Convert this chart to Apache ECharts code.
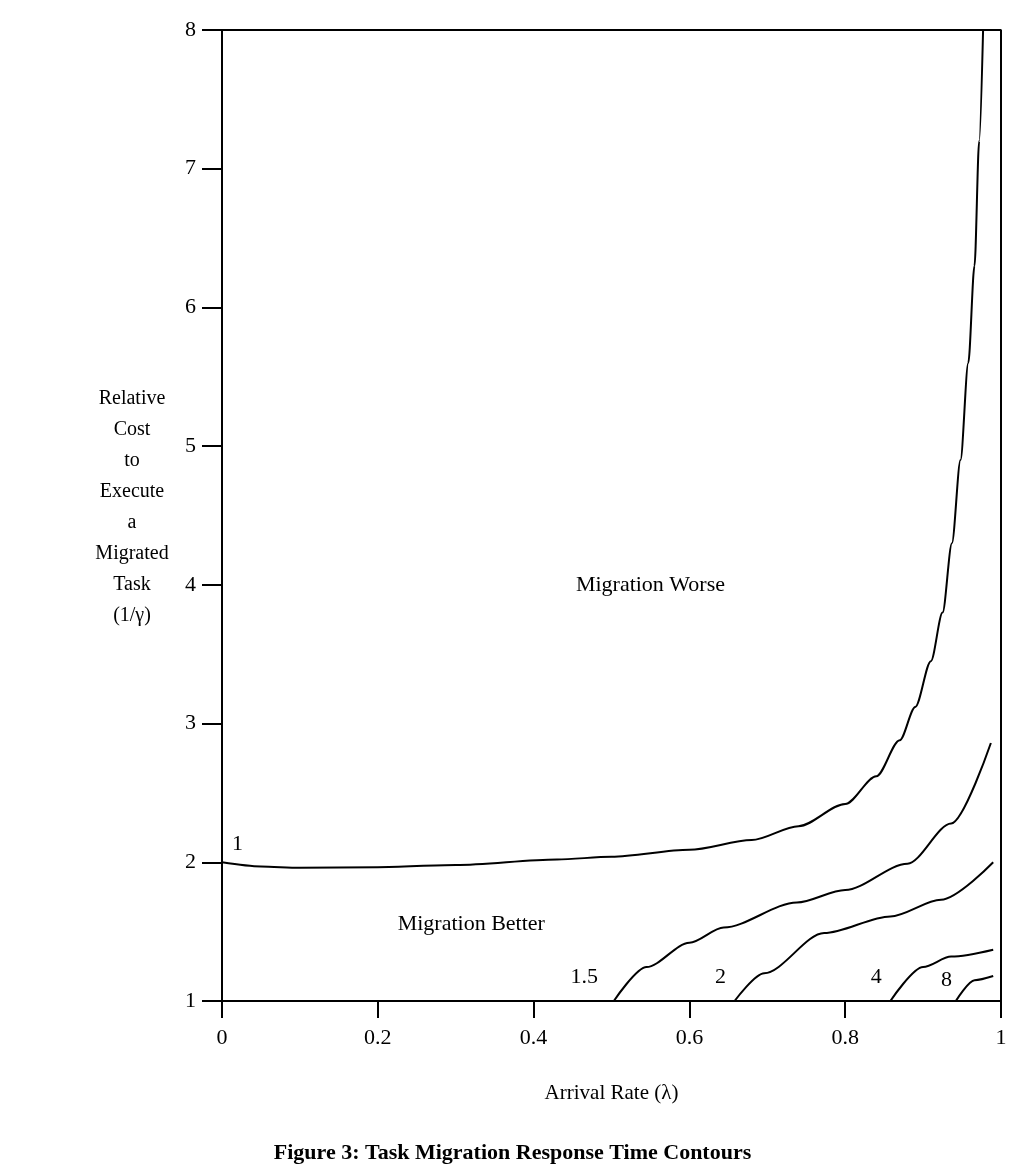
<!DOCTYPE html>
<html><head><meta charset="utf-8">
<script src="https://cdn.jsdelivr.net/npm/echarts@6/dist/echarts.min.js"></script>
<style>html,body{margin:0;padding:0;background:#fff}#c{width:1025px;height:1171px}</style>
</head><body><div id="c"></div>
<script>
var xTicks = [0, 0.2, 0.4, 0.6, 0.8, 1];
var yTicks = [1, 2, 3, 4, 5, 6, 7, 8];
var contour1 = [[0,2.0],[0.05,1.97],[0.1,1.96],[0.2,1.965],[0.3,1.98],[0.43,2.02],[0.5,2.04],[0.6,2.09],[0.68,2.16],[0.74,2.26],[0.8,2.42],[0.84,2.62],[0.87,2.88],[0.89,3.12],[0.91,3.45],[0.925,3.8],[0.937,4.3],[0.948,4.9],[0.958,5.6],[0.966,6.3],[0.972,7.2],[0.977,8]];
var contour15 = [[0.503,1.0],[0.545,1.245],[0.60,1.42],[0.644,1.53],[0.738,1.71],[0.80,1.80],[0.88,1.99],[0.936,2.28],[0.987,2.86]];
var contour2 = [[0.658,1.0],[0.696,1.2],[0.773,1.49],[0.858,1.61],[0.923,1.73],[0.99,2.0]];
var contour4 = [[0.858,1.0],[0.90,1.245],[0.936,1.32],[0.99,1.37]];
var contour8 = [[0.942,1.0],[0.966,1.15],[0.99,1.18]];
var boxLine = [[0,8],[1,8],[1,1]];
var contourLabels = [[0.02,2.13,'1'],[0.465,1.17,'1.5'],[0.64,1.17,'2'],[0.84,1.17,'4'],[0.93,1.15,'8']];
var regionLabels = [[0.55,4.0,'Migration Worse'],[0.32,1.55,'Migration Better']];
var F = 'Liberation Serif, Times New Roman, serif';
function line(d){return {type:'line',data:d,symbol:'none',smooth:0.3,smoothMonotone:'x',lineStyle:{color:'#000',width:2},silent:true};}
var chart = echarts.init(document.getElementById('c'));
chart.setOption({
  animation:false,
  grid:{left:222,right:24,top:30,bottom:170},
  xAxis:{type:'value',min:0,max:1,interval:0.2,
    axisLine:{lineStyle:{color:'#000',width:2}},
    axisTick:{length:17,lineStyle:{color:'#000',width:2}},
    splitLine:{show:false},
    axisLabel:{color:'#000',fontFamily:F,fontSize:22,margin:26,formatter:function(v){return xTicks.indexOf(Math.round(v*10)/10)>=0?String(Math.round(v*10)/10):'';}},
    name:'Arrival Rate (\u03bb)',nameLocation:'middle',nameGap:82,nameTextStyle:{color:'#000',fontFamily:F,fontSize:21}},
  yAxis:{type:'value',min:1,max:8,interval:1,
    axisLine:{lineStyle:{color:'#000',width:2}},
    axisTick:{length:20,lineStyle:{color:'#000',width:2}},
    splitLine:{show:false},
    axisLabel:{color:'#000',fontFamily:F,fontSize:22,margin:26,formatter:function(v){return yTicks.indexOf(v)>=0?String(v):'';}}},
  graphic:[
    {type:'text',x:132,y:383,style:{text:'Relative\nCost\nto\nExecute\na\nMigrated\nTask\n(1/\u03b3)',align:'center',fill:'#000',font:'20px '+F,lineHeight:31}},
    {type:'text',left:'center',top:1142,style:{text:'Figure 3: Task Migration Response Time Contours',fill:'#000',font:'bold 22px '+F}}
  ],
  series:[
    line(contour1),line(contour15),line(contour2),line(contour4),line(contour8),
    {type:'line',data:boxLine,symbol:'none',lineStyle:{color:'#000',width:2},silent:true},
    {type:'scatter',symbolSize:0,silent:true,itemStyle:{opacity:1},data:contourLabels.concat(regionLabels).map(function(p){return {value:[p[0],p[1]],name:p[2]};}),
     label:{show:true,position:'inside',formatter:'{b}',color:'#000',opacity:1,textBorderWidth:0,fontFamily:F,fontSize:22}}
  ]
});
</script></body></html>
